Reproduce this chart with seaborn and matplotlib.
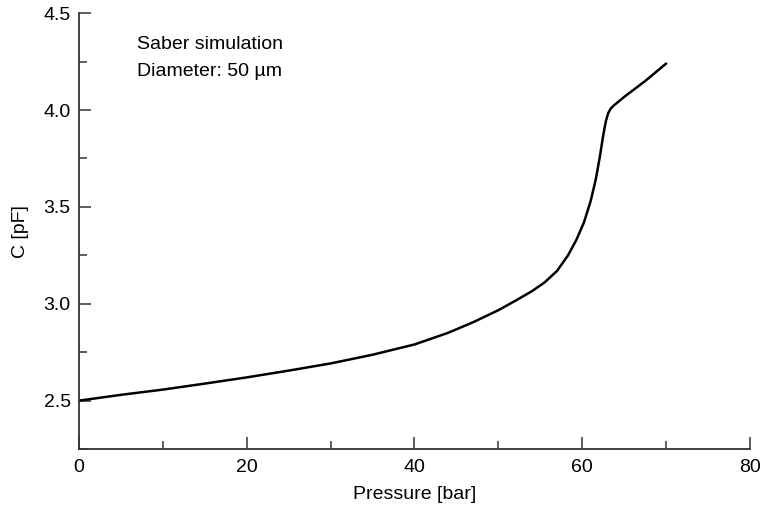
import matplotlib
matplotlib.use("Agg")
import matplotlib.pyplot as plt
from matplotlib.ticker import MultipleLocator, FormatStrFormatter
import seaborn as sns
import pandas as pd

# values
pressure = [0, 5, 10, 15, 20, 25, 30, 35, 40, 44, 47, 50, 52, 54, 55.5, 57,
            58.3, 59.3, 60.2, 61, 61.6, 62.1, 62.5, 62.8, 63.1, 63.4, 63.8,
            65, 67.5, 70]
capacitance = [2.50, 2.53, 2.557, 2.588, 2.62, 2.655, 2.692, 2.737, 2.79, 2.85,
               2.905, 2.967, 3.015, 3.065, 3.11, 3.17, 3.25, 3.33, 3.42, 3.53,
               3.64, 3.76, 3.87, 3.94, 3.985, 4.008, 4.025, 4.068, 4.15, 4.24]

annotation = ["Saber simulation", "Diameter: 50 \u00b5m"]

sns.set_style("ticks")
plt.rcParams['font.family'] = ['Liberation Sans', 'DejaVu Sans']
plt.rcParams['text.color'] = 'black'
plt.rcParams['axes.labelcolor'] = 'black'

df = pd.DataFrame({"Pressure": pressure, "C": capacitance})

fig = plt.figure(figsize=(7.63, 5.08), dpi=100)
ax = fig.add_axes([0.1035, 0.116, 0.8795, 0.858])

sns.lineplot(data=df, x="Pressure", y="C", ax=ax, color="black", linewidth=1.8,
             sort=False)

ax.set_xlim(0, 80)
ax.set_ylim(2.25, 4.5)
ax.xaxis.set_major_locator(MultipleLocator(20))
ax.xaxis.set_minor_locator(MultipleLocator(10))
ax.yaxis.set_major_locator(MultipleLocator(0.5))
ax.yaxis.set_minor_locator(MultipleLocator(0.25))
ax.yaxis.set_major_formatter(FormatStrFormatter('%.1f'))

sns.despine(ax=ax)
for side in ["left", "bottom"]:
    ax.spines[side].set_color("#333333")
    ax.spines[side].set_linewidth(1.3)

ax.tick_params(which="major", direction="in", length=8.6, width=1.1,
               color="#333333", labelsize=14, labelcolor="black", pad=6)
ax.tick_params(which="minor", direction="in", length=5.5, width=1.1,
               color="#333333")
ax.tick_params(axis="x", which="major", pad=7)

ax.set_xlabel("Pressure [bar]", fontsize=14, labelpad=7)
ax.set_ylabel("C [pF]", fontsize=14, labelpad=10)

ax.text(0.0864, 0.929, annotation[0], transform=ax.transAxes, fontsize=14,
        va="center", ha="left")
ax.text(0.0864, 0.867, annotation[1], transform=ax.transAxes, fontsize=14,
        va="center", ha="left")

fig.savefig("out.png", dpi=100)
